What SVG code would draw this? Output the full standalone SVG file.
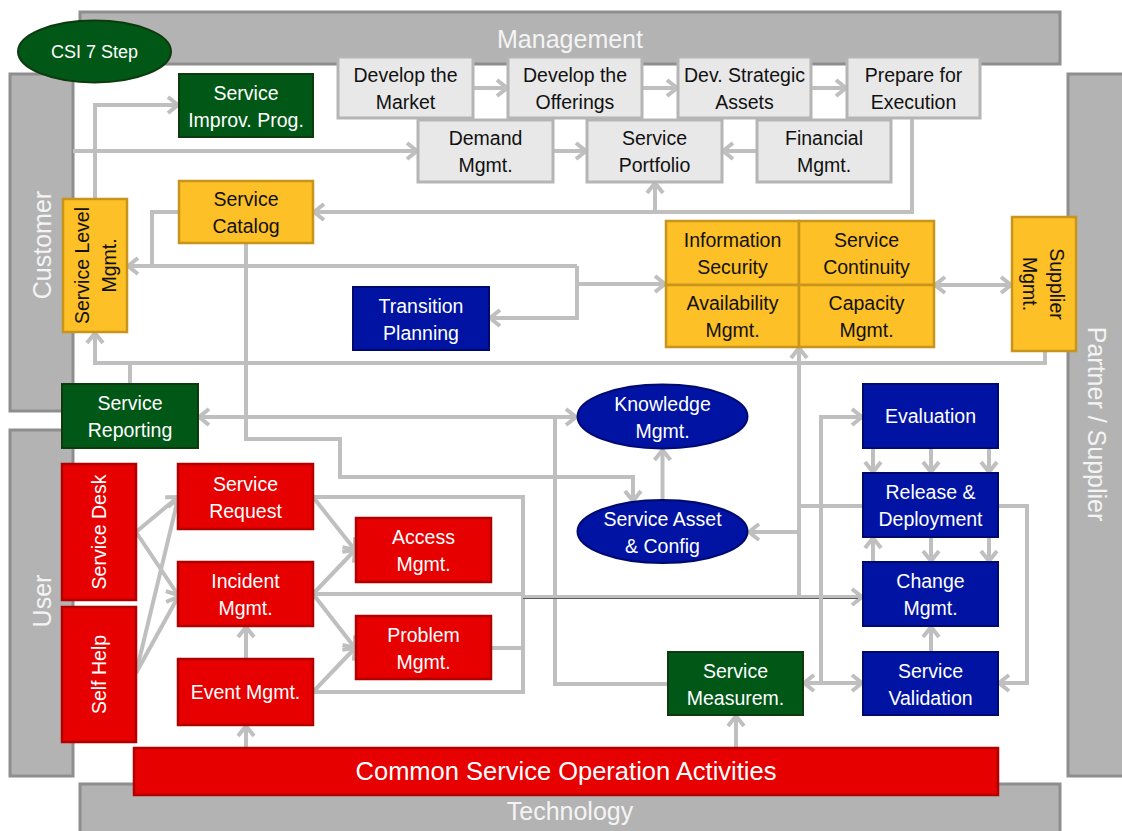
<svg xmlns="http://www.w3.org/2000/svg" width="1122" height="831" viewBox="0 0 1122 831">
<style>
.band{fill:#b3b3b3;stroke:#8e8e8e;stroke-width:3}
.bl{font-family:"Liberation Sans",Arial,sans-serif;font-size:25px;fill:#f4f4f4;text-anchor:middle}
.t{font-family:"Liberation Sans",Arial,sans-serif;font-size:19.5px;text-anchor:middle}
.w{fill:#ffffff}
.k{fill:#111111}
.g{fill:#e8e8e8;stroke:#b5b5b5;stroke-width:3}
.y{fill:#fdc026;stroke:#c8951c;stroke-width:2.5}
.r{fill:#e60000;stroke:#b20000;stroke-width:2.5}
.n{fill:#0013a3;stroke:#000a6e;stroke-width:2}
.dg{fill:#005716;stroke:#0e3a0e;stroke-width:2}
.c{fill:none;stroke:#bfbfbf;stroke-width:4}
.ae{marker-end:url(#ah)}
.ab{marker-start:url(#ah);marker-end:url(#ah)}
</style>
<defs>
<marker id="ah" viewBox="-2 -2 16 20" refX="10" refY="8" markerWidth="16" markerHeight="20" markerUnits="userSpaceOnUse" orient="auto-start-reverse">
<path d="M0,0 L10,8 L0,16" fill="none" stroke="#bfbfbf" stroke-width="4"/>
</marker>
</defs>
<rect width="1122" height="831" fill="#ffffff"/>

<g id="bands">
<rect class="band" x="80" y="12" width="980" height="52"/>
<text class="bl" x="570" y="48">Management</text>
<rect class="band" x="10" y="74" width="63" height="337"/>
<text class="bl" transform="translate(51,245) rotate(-90)">Customer</text>
<rect class="band" x="10" y="430" width="63" height="346"/>
<text class="bl" transform="translate(51,601) rotate(-90)">User</text>
<rect class="band" x="1068" y="74" width="70" height="702"/>
<text class="bl" transform="translate(1088,424) rotate(90)">Partner / Supplier</text>
<rect class="band" x="80" y="784" width="980" height="60"/>
<text class="bl" x="570" y="820">Technology</text>
</g>

<g id="connectors">
<path class="c ae" d="M473,88 H507"/>
<path class="c ae" d="M642,88 H677"/>
<path class="c ae" d="M811,88 H846"/>
<path class="c ae" d="M553,151 H586"/>
<path class="c ae" d="M757,151 H723"/>
<path class="c ae" d="M73,151 H417"/>
<path class="c ae" d="M95,199 V105 H178"/>
<path class="c ae" d="M912,118 V212 H314"/>
<path class="c ae" d="M655,212 V183"/>
<path class="c" d="M179,212 H152 V266"/>
<path class="c ae" d="M577,266 H128"/>
<path class="c ae" d="M577,266 V318 H490"/>
<path class="c ae" d="M577,284 H665"/>
<path class="c ae" d="M246,243 V439 H340 V477 H633 V501"/>
<path class="c ae" d="M1045,351 V363 H95 V333"/>
<path class="c" d="M130,384 V363"/>
<path class="c ae" d="M799,597 V348"/>
<path class="c ae" d="M799,532 H749"/>
<path class="c" d="M863,506 H799"/>
<path class="c ab" d="M199,417 H576"/>
<path class="c" d="M555,417 V684 H668"/>
<path class="c ae" d="M662.5,500 V450"/>
<path class="c ae" d="M136,532 L178,497"/>
<path class="c ae" d="M136,532 L178,595"/>
<path class="c ae" d="M136,673 L178,499"/>
<path class="c ae" d="M136,673 L178,597"/>
<path class="c ae" d="M313,497 L355,550"/>
<path class="c ae" d="M313,594 L355,550"/>
<path class="c ae" d="M313,594 L355,648"/>
<path class="c ae" d="M313,692 L355,648"/>
<path class="c" d="M313,497 H523 V692 H313"/>
<path class="c" d="M491,648 H523"/>
<path class="c" d="M313,594 H523"/>
<path class="c ae" d="M523,597 H862"/>
<path d="M523,598.5 H858" fill="none" stroke="#5c5c5c" stroke-width="1.2"/>
<path class="c ae" d="M246,659 V627"/>
<path class="c ae" d="M246,748 V726"/>
<path class="c ae" d="M736,748 V716"/>
<path class="c ae" d="M821,683 V417 H862"/>
<path class="c ab" d="M804,683 H862"/>
<path class="c ae" d="M873,448 V472"/>
<path class="c ae" d="M931,448 V472"/>
<path class="c ae" d="M989,448 V472"/>
<path class="c ae" d="M931,537 V561"/>
<path class="c ae" d="M989,537 V561"/>
<path class="c ae" d="M873,562 V538"/>
<path class="c ae" d="M931,652 V627"/>
<path class="c ae" d="M998,506 H1027 V683 H999"/>
<path class="c ab" d="M935,285 H1011"/>
</g>

<g id="csi7step">
<ellipse class="dg" cx="94.5" cy="51.5" rx="76.5" ry="31"/>
<text class="t w" x="94.5" y="58" style="font-size:18px">CSI 7 Step</text>
</g>
<g id="develop-market">
<rect class="g" x="338" y="57" width="135" height="61"/>
<text class="t k"><tspan x="405.5" y="81.5">Develop the</tspan><tspan x="405.5" y="108.5">Market</tspan></text>
</g>
<g id="develop-offerings">
<rect class="g" x="508" y="57" width="134" height="61"/>
<text class="t k"><tspan x="575" y="81.5">Develop the</tspan><tspan x="575" y="108.5">Offerings</tspan></text>
</g>
<g id="dev-strategic-assets">
<rect class="g" x="678" y="57" width="133" height="61"/>
<text class="t k"><tspan x="744.5" y="81.5">Dev. Strategic</tspan><tspan x="744.5" y="108.5">Assets</tspan></text>
</g>
<g id="prepare-execution">
<rect class="g" x="847" y="57" width="133" height="61"/>
<text class="t k"><tspan x="913.5" y="81.5">Prepare for</tspan><tspan x="913.5" y="108.5">Execution</tspan></text>
</g>
<g id="demand-mgmt">
<rect class="g" x="418" y="120" width="135" height="62"/>
<text class="t k"><tspan x="485.5" y="145">Demand</tspan><tspan x="485.5" y="172">Mgmt.</tspan></text>
</g>
<g id="service-portfolio">
<rect class="g" x="587" y="120" width="135" height="62"/>
<text class="t k"><tspan x="654.5" y="145">Service</tspan><tspan x="654.5" y="172">Portfolio</tspan></text>
</g>
<g id="financial-mgmt">
<rect class="g" x="757" y="120" width="134" height="62"/>
<text class="t k"><tspan x="824" y="145">Financial</tspan><tspan x="824" y="172">Mgmt.</tspan></text>
</g>
<g id="service-improv-prog">
<rect class="dg" x="179" y="74" width="134" height="63"/>
<text class="t w"><tspan x="246" y="99.5">Service</tspan><tspan x="246" y="126.5">Improv. Prog.</tspan></text>
</g>
<g id="service-catalog">
<rect class="y" x="179" y="181" width="134" height="62"/>
<text class="t k"><tspan x="246" y="206">Service</tspan><tspan x="246" y="233">Catalog</tspan></text>
</g>
<g id="service-level-mgmt">
<rect class="y" x="63" y="199" width="64" height="133"/>
<text class="t k" transform="translate(95,265.5) rotate(-90)"><tspan x="0" y="-6">Service Level</tspan><tspan x="0" y="21">Mgmt.</tspan></text>
</g>
<g id="transition-planning">
<rect class="n" x="353" y="287" width="136" height="63"/>
<text class="t w"><tspan x="421" y="312.5">Transition</tspan><tspan x="421" y="339.5">Planning</tspan></text>
</g>
<g id="information-security">
<rect class="y" x="666" y="221" width="133" height="64"/>
<text class="t k"><tspan x="732.5" y="247">Information</tspan><tspan x="732.5" y="274">Security</tspan></text>
</g>
<g id="service-continuity">
<rect class="y" x="799" y="221" width="135" height="64"/>
<text class="t k"><tspan x="866.5" y="247">Service</tspan><tspan x="866.5" y="274">Continuity</tspan></text>
</g>
<g id="availability-mgmt">
<rect class="y" x="666" y="285" width="133" height="62"/>
<text class="t k"><tspan x="732.5" y="310">Availability</tspan><tspan x="732.5" y="337">Mgmt.</tspan></text>
</g>
<g id="capacity-mgmt">
<rect class="y" x="799" y="285" width="135" height="62"/>
<text class="t k"><tspan x="866.5" y="310">Capacity</tspan><tspan x="866.5" y="337">Mgmt.</tspan></text>
</g>
<g id="supplier-mgmt">
<rect class="y" x="1012" y="217" width="64" height="134"/>
<text class="t k" transform="translate(1044,284) rotate(90)"><tspan x="0" y="-6">Supplier</tspan><tspan x="0" y="21">Mgmt.</tspan></text>
</g>
<g id="service-reporting">
<rect class="dg" x="62" y="384" width="136" height="64"/>
<text class="t w"><tspan x="130" y="410">Service</tspan><tspan x="130" y="437">Reporting</tspan></text>
</g>
<g id="knowledge-mgmt">
<ellipse class="n" cx="662.5" cy="416.5" rx="85" ry="32"/>
<text class="t w"><tspan x="662.5" y="410.5">Knowledge</tspan><tspan x="662.5" y="437.5">Mgmt.</tspan></text>
</g>
<g id="service-asset-config">
<ellipse class="n" cx="662.5" cy="531.5" rx="85" ry="31.5"/>
<text class="t w"><tspan x="662.5" y="525.5">Service Asset</tspan><tspan x="662.5" y="552.5">&amp; Config</tspan></text>
</g>
<g id="service-desk">
<rect class="r" x="62" y="464" width="74" height="136"/>
<text class="t w" transform="translate(99,532) rotate(-90)" x="0" y="7">Service Desk</text>
</g>
<g id="self-help">
<rect class="r" x="62" y="607" width="74" height="135"/>
<text class="t w" transform="translate(99,674.5) rotate(-90)" x="0" y="7">Self Help</text>
</g>
<g id="service-request">
<rect class="r" x="178" y="464" width="135" height="65"/>
<text class="t w"><tspan x="245.5" y="490.5">Service</tspan><tspan x="245.5" y="517.5">Request</tspan></text>
</g>
<g id="incident-mgmt">
<rect class="r" x="178" y="562" width="135" height="64"/>
<text class="t w"><tspan x="245.5" y="588">Incident</tspan><tspan x="245.5" y="615">Mgmt.</tspan></text>
</g>
<g id="event-mgmt">
<rect class="r" x="178" y="659" width="135" height="66"/>
<text class="t w" x="245.5" y="699">Event Mgmt.</text>
</g>
<g id="access-mgmt">
<rect class="r" x="356" y="518" width="135" height="64"/>
<text class="t w"><tspan x="423.5" y="544">Access</tspan><tspan x="423.5" y="571">Mgmt.</tspan></text>
</g>
<g id="problem-mgmt">
<rect class="r" x="356" y="616" width="135" height="63"/>
<text class="t w"><tspan x="423.5" y="641.5">Problem</tspan><tspan x="423.5" y="668.5">Mgmt.</tspan></text>
</g>
<g id="evaluation">
<rect class="n" x="863" y="384" width="135" height="64"/>
<text class="t w" x="930.5" y="423">Evaluation</text>
</g>
<g id="release-deployment">
<rect class="n" x="863" y="473" width="135" height="64"/>
<text class="t w"><tspan x="930.5" y="499">Release &amp;</tspan><tspan x="930.5" y="526">Deployment</tspan></text>
</g>
<g id="change-mgmt">
<rect class="n" x="863" y="562" width="135" height="64"/>
<text class="t w"><tspan x="930.5" y="588">Change</tspan><tspan x="930.5" y="615">Mgmt.</tspan></text>
</g>
<g id="service-validation">
<rect class="n" x="863" y="652" width="135" height="63"/>
<text class="t w"><tspan x="930.5" y="677.5">Service</tspan><tspan x="930.5" y="704.5">Validation</tspan></text>
</g>
<g id="service-measurement">
<rect class="dg" x="668" y="652" width="135" height="63"/>
<text class="t w"><tspan x="735.5" y="677.5">Service</tspan><tspan x="735.5" y="704.5">Measurem.</tspan></text>
</g>
<g id="common-service-operation">
<rect class="r" x="134" y="748" width="864" height="47"/>
<text class="t w" x="566" y="780" style="font-size:25.5px">Common Service Operation Activities</text>
</g>
</svg>
